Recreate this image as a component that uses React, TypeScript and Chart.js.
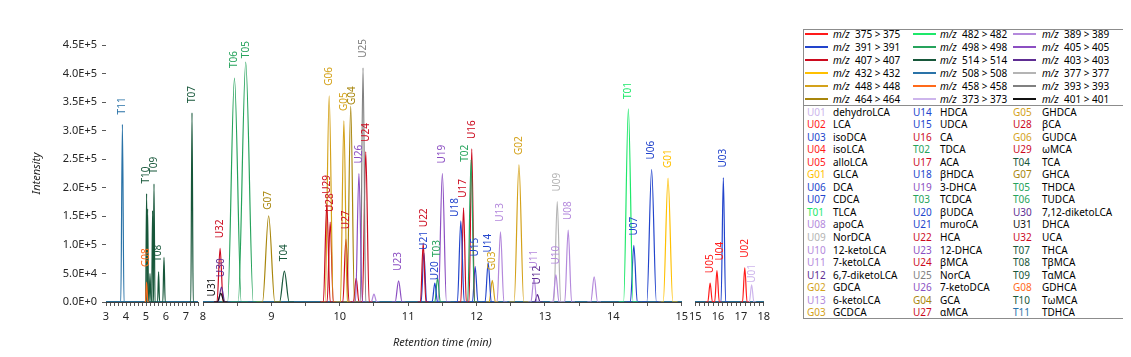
import React, { useEffect, useRef } from 'react';
import { Chart, registerables } from 'chart.js';

Chart.register(...registerables);

const FONT = '"Noto Sans", "DejaVu Sans", sans-serif';
Chart.defaults.font.family = FONT;

// ---- MRM channels (legend order, column-major, 6 rows) ----
const channelLabels = [
  '375 > 375', '391 > 391', '407 > 407', '432 > 432', '448 > 448', '464 > 464',
  '482 > 482', '498 > 498', '514 > 514', '508 > 508', '458 > 458', '373 > 373',
  '389 > 389', '405 > 405', '403 > 403', '377 > 377', '393 > 393', '401 > 401',
];
const channelColors = [
  '#ff1a1a', '#2244cc', '#cc0a1e', '#ffc000', '#d4a21a', '#a8860c',
  '#1de86a', '#26a35c', '#17573a', '#2a73a8', '#ff6a1a', '#cdb5ec',
  '#b489dc', '#8c4fc2', '#5e2d92', '#b4b4b4', '#808080', '#111111',
];

// ---- compound table (column-major, 17 rows) ----
const compoundCodes = [
  'U01', 'U02', 'U03', 'U04', 'U05', 'G01', 'U06', 'U07', 'T01', 'U08', 'U09', 'U10', 'U11', 'U12', 'G02', 'U13', 'G03',
  'U14', 'U15', 'U16', 'T02', 'U17', 'U18', 'U19', 'T03', 'U20', 'U21', 'U22', 'U23', 'U24', 'U25', 'U26', 'G04', 'U27',
  'G05', 'U28', 'G06', 'U29', 'T04', 'G07', 'T05', 'T06', 'U30', 'U31', 'U32', 'T07', 'T08', 'T09', 'G08', 'T10', 'T11',
];
const compoundNames = [
  'dehydroLCA', 'LCA', 'isoDCA', 'isoLCA', 'alloLCA', 'GLCA', 'DCA', 'CDCA', 'TLCA', 'apoCA', 'NorDCA', '12-ketoLCA', '7-ketoLCA', '6,7-diketoLCA', 'GDCA', '6-ketoLCA', 'GCDCA',
  'HDCA', 'UDCA', 'CA', 'TDCA', 'ACA', 'βHDCA', '3-DHCA', 'TCDCA', 'βUDCA', 'muroCA', 'HCA', '12-DHCA', 'βMCA', 'NorCA', '7-ketoDCA', 'GCA', 'αMCA',
  'GHDCA', 'βCA', 'GUDCA', 'ωMCA', 'TCA', 'GHCA', 'THDCA', 'TUDCA', '7,12-diketoLCA', 'DHCA', 'UCA', 'THCA', 'TβMCA', 'TαMCA', 'GDHCA', 'TωMCA', 'TDHCA',
];
const compoundChannels = [
  11, 0, 1, 0, 0, 3, 1, 1, 6, 12, 15, 12, 12, 14, 4, 12, 4,
  1, 1, 2, 7, 2, 1, 13, 7, 1, 1, 2, 13, 2, 16, 13, 5, 2,
  4, 2, 4, 2, 8, 5, 7, 7, 14, 17, 2, 8, 8, 8, 10, 8, 9,
];

// ---- chromatographic peaks ----
const peakCodes = [
  'T11', 'G08', 'T10', '', '', '', 'T09', 'T08', '', 'T07',
  'U31', 'U30', 'U32', 'T06', 'T05', 'G07', 'T04', 'U29', 'G06', 'U28', 'G05', 'U27', 'G04', 'U26', 'U25', 'U24', '', '', 'U23',
  'U22', 'U21', 'U20', 'T03', 'U19', 'U18', 'U17', 'T02', 'U16', 'U15', 'U14', 'G03', 'U13', 'G02', 'U11', 'U12', 'U10', 'U09', 'U08', '', 'T01', 'U07', 'U06', 'G01',
  'U05', 'U04', 'U03', 'U02', 'U01',
];
const peakChannels = [
  9, 10, 8, 8, 8, 8, 8, 8, 8, 8,
  17, 14, 2, 7, 7, 5, 8, 2, 4, 2, 4, 2, 5, 13, 16, 2, 2, 12, 13,
  2, 1, 1, 7, 13, 1, 2, 7, 2, 1, 1, 4, 12, 4, 12, 14, 12, 15, 12, 12, 6, 1, 1, 3,
  0, 0, 1, 0, 11,
];
const peakTimes = [
  3.82, 5.03, 5.03, 5.08, 5.2, 5.33, 5.4, 5.63, 5.9, 7.3,
  8.26, 8.27, 8.25, 8.46, 8.625, 8.96, 9.19, 9.81, 9.845, 9.86, 10.06, 10.09, 10.16, 10.28, 10.34, 10.38, 10.24, 10.5, 10.86,
  11.22, 11.23, 11.39, 11.43, 11.5, 11.77, 11.81, 11.92, 11.93, 11.98, 12.17, 12.23, 12.35, 12.62, 12.84, 12.89, 13.16, 13.18, 13.34, 13.72, 14.22, 14.3, 14.56, 14.8,
  15.65, 15.95, 16.23, 17.17, 17.47,
];
const peakHeights = [
  311000, 35000, 190000, 163000, 50000, 160000, 207000, 53000, 78000, 331000,
  15000, 26000, 94000, 392000, 420000, 151000, 54000, 172000, 361000, 140000, 317000, 110000, 343000, 225000, 410000, 263000, 42000, 14000, 37000,
  103000, 86000, 33000, 42000, 225000, 142000, 165000, 249000, 268000, 62000, 69000, 38000, 123000, 240000, 41000, 13000, 48000, 176000, 126000, 44000, 338000, 99000, 232000, 217000,
  33000, 55000, 218000, 60000, 30000,
];
const peakWidths = [
  0.08, 0.06, 0.05, 0.05, 0.05, 0.05, 0.05, 0.05, 0.06, 0.06,
  0.05, 0.05, 0.045, 0.1, 0.11, 0.09, 0.07, 0.05, 0.06, 0.045, 0.05, 0.045, 0.055, 0.05, 0.04, 0.05, 0.04, 0.04, 0.05,
  0.04, 0.04, 0.04, 0.04, 0.06, 0.05, 0.04, 0.05, 0.04, 0.04, 0.045, 0.045, 0.05, 0.07, 0.045, 0.04, 0.045, 0.05, 0.05, 0.05, 0.07, 0.05, 0.07, 0.07,
  0.1, 0.1, 0.1, 0.1, 0.1,
];

// ---- axes ----
const yMax = 450000;
const yStep = 50000;
const panelRanges = [[3, 7.6], [8, 15], [15, 18]];
const panelTickSteps = [0.2, 0.5, 0.2];

// ---- layout (pixels) ----
const panelLayout = [
  { left: 0, width: 194, padL: 0, padR: 4 },
  { left: 185, width: 499, padL: 10, padR: 10 },
  { left: 677, width: 89, padL: 10, padR: 10 },
];
const labelNudge: Record<string, [number, number]> = {
  U31: [-9, 13], T02: [-6, 12], U18: [-6, 6], T03: [0, -11], U21: [0, 7], U20: [0, 7],
  T05: [0, 6], G04: [1, 9], U01: [1, 8], U22: [1, -6], G08: [0, -5], G07: [0, 4], U04: [3, 0],
};

const peakLabelPlugin = {
  id: 'peakLabels',
  afterDatasetsDraw(chart: any) {
    const xs = chart.scales.x;
    const ys = chart.scales.y;
    const ctx = chart.ctx;
    ctx.save();
    ctx.font = `10px ${FONT}`;
    ctx.textAlign = 'left';
    ctx.textBaseline = 'middle';
    peakCodes.forEach((code, i) => {
      if (!code) return;
      const t = peakTimes[i];
      if (t < xs.min || t > xs.max) return;
      const n = labelNudge[code] || [0, 0];
      const px = xs.getPixelForValue(t) + n[0];
      const py = ys.getPixelForValue(peakHeights[i]) - 10 + n[1];
      ctx.save();
      ctx.translate(px, py);
      ctx.rotate(-Math.PI / 2);
      ctx.fillStyle = channelColors[peakChannels[i]];
      ctx.fillText(code, 0, 0);
      ctx.restore();
    });
    ctx.restore();
  },
};

function buildDatasets(range: number[]) {
  const ds: any[] = [];
  peakTimes.forEach((t, i) => {
    const w = peakWidths[i];
    if (t + 2 * w < range[0] || t - 2 * w > range[1]) return;
    ds.push({
      data: [
        { x: t - 2 * w, y: 0 },
        { x: t - w, y: 0 },
        { x: t, y: peakHeights[i] },
        { x: t + w, y: 0 },
        { x: t + 2 * w, y: 0 },
      ],
      borderColor: channelColors[peakChannels[i]],
      borderWidth: 1.2,
      pointRadius: 0,
      fill: false,
      cubicInterpolationMode: 'monotone',
    });
  });
  const baseOrder = [9, 8, 1, 7, 17];
  baseOrder.forEach((k) => {
    ds.push({
      data: [{ x: 3, y: 0 }, { x: 18, y: 0 }],
      borderColor: channelColors[k],
      borderWidth: 1.4,
      pointRadius: 0,
      fill: false,
    });
  });
  return ds;
}

function isInt(v: number) {
  return Math.abs(v - Math.round(v)) < 1e-6;
}

function Panel({ index }: { index: number }) {
  const ref = useRef<HTMLCanvasElement | null>(null);
  const lay = panelLayout[index];
  useEffect(() => {
    if (!ref.current) return;
    const range = panelRanges[index];
    const first = index === 0;
    const yScale: any = {
      display: first,
      min: 0,
      max: yMax,
      ticks: {
        stepSize: yStep,
        padding: 5,
        color: '#262626',
        font: { size: 11, family: FONT },
        callback: (v: any) => Number(v).toExponential(1).toUpperCase(),
      },
      grid: { drawOnChartArea: false, drawTicks: true, tickLength: 4, color: '#595959' },
      border: { display: false },
      title: {
        display: first,
        text: 'Intensity',
        color: '#262626',
        font: { size: 11, style: 'italic', family: FONT },
        padding: { top: 22, bottom: 0 },
      },
    };
    if (first) yScale.afterFit = (s: any) => { s.width = 98; };
    const chart = new Chart(ref.current, {
      type: 'line',
      data: { datasets: buildDatasets(range) },
      options: {
        animation: false,
        responsive: false,
        events: [],
        layout: { padding: { top: 25, left: lay.padL, right: lay.padR, bottom: 0 } },
        plugins: { legend: { display: false }, tooltip: { enabled: false } },
        scales: {
          x: {
            type: 'linear',
            min: range[0],
            max: range[1],
            afterFit: (s: any) => { s.height = 48; },
            ticks: {
              stepSize: panelTickSteps[index],
              autoSkip: false,
              maxRotation: 0,
              padding: 4,
              color: '#262626',
              font: { size: 11, family: FONT },
              callback: (v: any) => (isInt(Number(v)) ? String(Math.round(Number(v))) : ''),
            },
            grid: { drawOnChartArea: false, drawTicks: true, tickLength: 4, color: '#595959' },
            border: { display: true, color: '#404040', width: 1 },
            title: {
              display: index === 1,
              text: 'Retention time (min)',
              color: '#262626',
              font: { size: 11, style: 'italic', family: FONT },
              padding: { top: 0, bottom: 1 },
            },
          },
          y: yScale,
        },
      } as any,
      plugins: [peakLabelPlugin],
    });
    return () => chart.destroy();
  }, [index]);
  return (
    <canvas
      ref={ref}
      width={lay.width}
      height={330}
      style={{ position: 'absolute', left: lay.left, top: 12, width: lay.width, height: 330 }}
    />
  );
}

function Legend() {
  const topRows = 6;
  const bottomRows = 17;
  const lineX = [1, 109, 209];
  const textX = [29, 136, 238];
  const codeX = [3, 109, 209];
  const txt: React.CSSProperties = { position: 'absolute', height: 14, lineHeight: '14px', whiteSpace: 'nowrap' };
  return (
    <div
      style={{
        position: 'absolute', left: 795, top: 21, width: 321, height: 290,
        border: '1px solid #8c8c8c', boxSizing: 'border-box',
        fontFamily: FONT, fontSize: 10, color: '#000',
      }}
    >
      {channelLabels.map((lab, i) => {
        const col = Math.floor(i / topRows);
        const row = i % topRows;
        const cy = 4 + 13 * row;
        return (
          <React.Fragment key={'c' + i}>
            <div style={{ position: 'absolute', left: lineX[col], top: cy - 1, width: 23, height: 2, background: channelColors[i] }} />
            <div style={{ ...txt, left: textX[col], top: cy - 7 }}>
              <i>m/z</i>&nbsp; {lab}
            </div>
          </React.Fragment>
        );
      })}
      <div style={{ position: 'absolute', left: 0, right: 0, top: 75, borderTop: '1px solid #8c8c8c' }} />
      {compoundCodes.map((code, i) => {
        const col = Math.floor(i / bottomRows);
        const row = i % bottomRows;
        const cy = 81.5 + 12.55 * row;
        return (
          <React.Fragment key={'p' + i}>
            <div style={{ ...txt, left: codeX[col], top: cy - 7, color: channelColors[compoundChannels[i]] }}>{code}</div>
            <div style={{ ...txt, left: textX[col], top: cy - 7 }}>{compoundNames[i]}</div>
          </React.Fragment>
        );
      })}
    </div>
  );
}

export default function App() {
  return (
    <div style={{ position: 'relative', width: 1115, height: 341 }}>
      <Panel index={0} />
      <Panel index={1} />
      <Panel index={2} />
      <Legend />
    </div>
  );
}
